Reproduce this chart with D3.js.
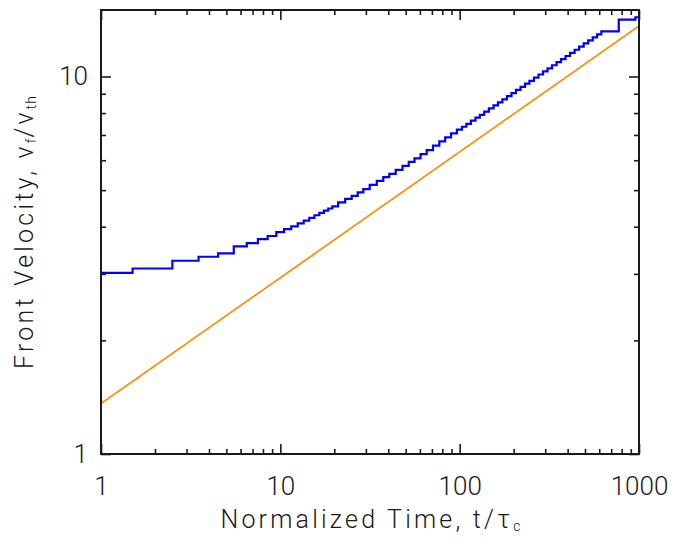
<!DOCTYPE html>
<html><head><meta charset="utf-8">
<script src="https://cdn.jsdelivr.net/npm/d3@7"></script>
<style>
body{margin:0;background:#fff;}
text{font-family:Roboto,"DejaVu Sans",sans-serif;font-weight:300;fill:#1a1a1a;}
</style>
</head><body>
<svg id="c" width="676" height="540"></svg>
<script>
// ---- data ----
const blueTime = [1,2,3,4,5,6,7,8,9,10,11,12,13,14,15,16,17,18,19,20,22,24,26,28,30,33,36,39,42,46,50,54,58,63,68,74,80,86,93,100,106,112,119,126,133,141,150,159,168,178,189,200,212,225,238,252,267,283,300,318,337,357,378,401,425,450,477,506,536,568,600,633,909,1000];
const blueVel  = [3.02,3.10,3.25,3.33,3.40,3.55,3.62,3.71,3.78,3.87,3.94,4.01,4.08,4.15,4.22,4.29,4.35,4.41,4.47,4.53,4.64,4.74,4.83,4.93,5.03,5.16,5.29,5.41,5.52,5.66,5.80,5.94,6.07,6.23,6.38,6.56,6.73,6.90,7.07,7.23,7.36,7.49,7.64,7.78,7.91,8.07,8.23,8.38,8.54,8.70,8.87,9.03,9.21,9.39,9.57,9.74,9.93,10.12,10.31,10.51,10.71,10.91,11.12,11.33,11.55,11.77,12.00,12.23,12.46,12.69,12.93,13.16,14.15,14.35];
const orangeTime = [1,1000];
const orangeVel  = [1.36,13.6];
const xTickLabels = [1,10,100,1000];
const yTickLabels = [1,10];
const xDomain = [1,1000];
const yDomain = [1,15];

// ---- layout ----
const svg = d3.select("#c");
const L=101, R=639, T=10, B=454;
const x = d3.scaleLog().domain(xDomain).range([L,R]);
const y = d3.scaleLog().domain(yDomain).range([B,T]);
const fs = 26;
const fmt = d => String(d);

const xMinor = x.ticks().filter(t => !xTickLabels.includes(t));
const yMinor = y.ticks().filter(t => !yTickLabels.includes(t) && t<=yDomain[1]);

function axisGroup(axis, tx, ty){
  const g = svg.append("g").attr("transform",`translate(${tx},${ty})`).call(axis);
  g.select(".domain").remove();
  g.selectAll("line").attr("stroke","#1a1a1a").attr("stroke-width",1.6);
  return g;
}
// bottom
const gb = axisGroup(d3.axisBottom(x).tickValues(xTickLabels).tickSize(-10).tickPadding(22.5).tickFormat(fmt),0,B);
gb.selectAll("text").attr("font-size",fs).attr("fill","#1a1a1a").style("font-family",null);
axisGroup(d3.axisBottom(x).tickValues(xMinor).tickSize(-5).tickFormat(""),0,B);
// top
axisGroup(d3.axisTop(x).tickValues(xTickLabels).tickSize(-10).tickFormat(""),0,T);
axisGroup(d3.axisTop(x).tickValues(xMinor).tickSize(-5).tickFormat(""),0,T);
// left
const gl = axisGroup(d3.axisLeft(y).tickValues(yTickLabels).tickSize(-10).tickPadding(13).tickFormat(fmt),L,0);
gl.selectAll("text").attr("font-size",fs).attr("fill","#1a1a1a").style("font-family",null);
axisGroup(d3.axisLeft(y).tickValues(yMinor).tickSize(-5).tickFormat(""),L,0);
// right
axisGroup(d3.axisRight(y).tickValues(yTickLabels).tickSize(-10).tickFormat(""),R,0);
axisGroup(d3.axisRight(y).tickValues(yMinor).tickSize(-5).tickFormat(""),R,0);

// clip
svg.append("clipPath").attr("id","clip").append("rect").attr("x",L).attr("y",T).attr("width",R-L).attr("height",B-T);

// orange line
const line = d3.line().x(d=>x(d[0])).y(d=>y(d[1]));
svg.append("path").datum(orangeTime.map((t,i)=>[t,orangeVel[i]]))
  .attr("d",line).attr("fill","none").attr("stroke","#ff8c00").attr("stroke-width",1.7).attr("clip-path","url(#clip)");

// blue histogram-style line (steps at linear midpoints)
const steps = [];
for(let i=0;i<blueTime.length;i++){
  const t=blueTime[i], v=blueVel[i];
  const t0 = i===0 ? t : (blueTime[i-1]+t)/2;
  const t1 = i===blueTime.length-1 ? t : (t+blueTime[i+1])/2;
  steps.push([t0,v],[t1,v]);
}
svg.append("path").datum(steps)
  .attr("d",line).attr("fill","none").attr("stroke","#0000ff").attr("stroke-width",2.2)
  .attr("clip-path","url(#clip)");

// frame
svg.append("rect").attr("x",L).attr("y",T).attr("width",R-L).attr("height",B-T)
  .attr("fill","none").attr("stroke","#1a1a1a").attr("stroke-width",2);

// titles
const xt = svg.append("text").attr("x",(L+R)/2+2).attr("y",528).attr("text-anchor","middle")
  .attr("font-size",25).attr("letter-spacing","3.2px");
xt.append("tspan").text("Normalized Time, t/τ");
xt.append("tspan").attr("font-size",14).attr("dy",3).text("c");

const yt = svg.append("text").attr("transform",`translate(33,${(T+B)/2}) rotate(-90)`).attr("text-anchor","middle")
  .attr("font-size",25).attr("letter-spacing","3.2px");
yt.append("tspan").text("Front Velocity, v");
yt.append("tspan").attr("font-size",14).attr("dy",3).attr("letter-spacing","1px").text("f");
yt.append("tspan").attr("font-size",25).attr("dy",-3).text("/v");
yt.append("tspan").attr("font-size",14).attr("dy",3).attr("letter-spacing","1px").text("th");
</script>
</body></html>
